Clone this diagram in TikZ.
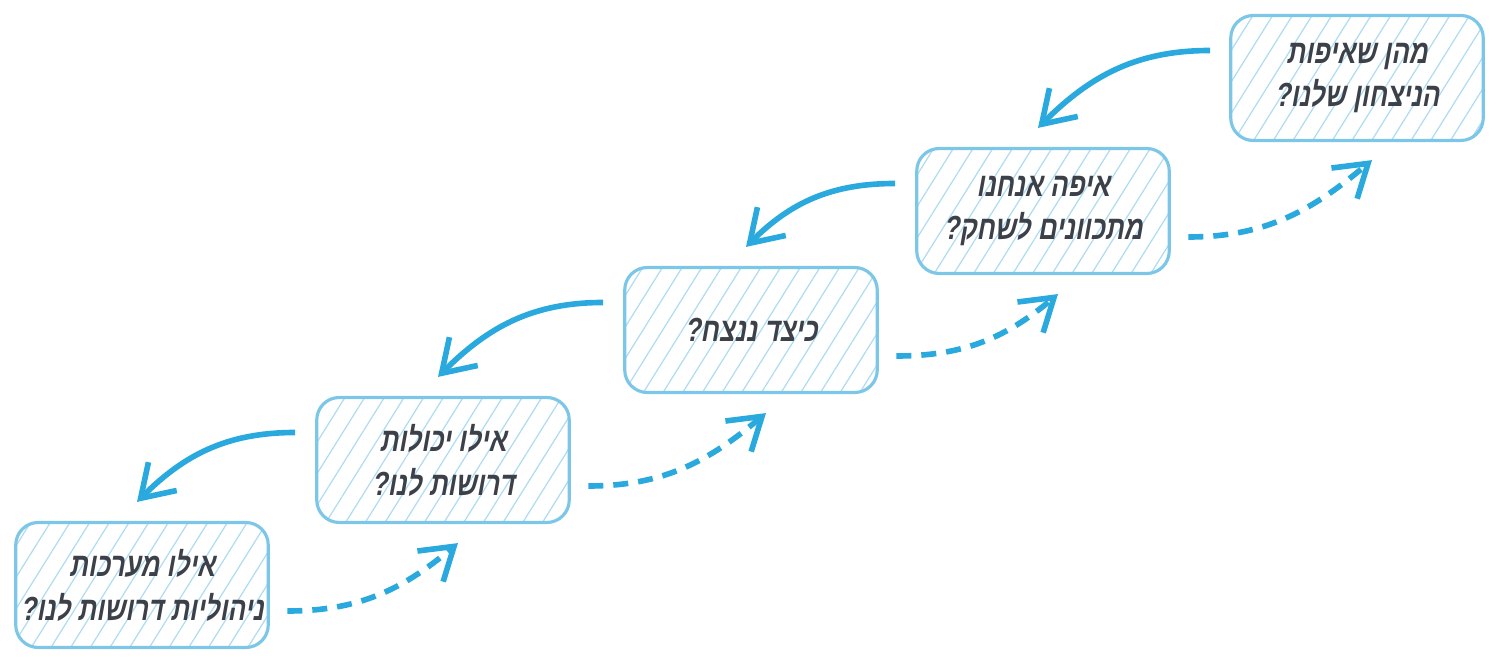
\documentclass[tikz,border=0pt]{standalone}
\usepackage{fontspec}
\newfontfamily\hebfont[Script=Hebrew,FakeSlant=0.18,FakeStretch=0.78]{Liberation Sans}
\TeXXeTstate=1
\usetikzlibrary{arrows.meta,patterns.meta}
\definecolor{boxline}{HTML}{7CC6E8}
\definecolor{hatch}{HTML}{AFDCF3}
\definecolor{arrowblue}{HTML}{2AA9DE}
\definecolor{inkgrey}{HTML}{3C4048}
\begin{document}
\begin{tikzpicture}[
  question/.style={draw=boxline, line width=1.8pt, rounded corners=0.45cm,
    pattern={Lines[angle=58,distance=9.5pt,line width=0.7pt]}, pattern color=hatch,
    minimum width=5.05cm, minimum height=2.5cm, align=center, inner sep=2pt,
    text=inkgrey, font=\hebfont\bfseries\fontsize{19}{25}\selectfont},
  back/.style={draw=arrowblue, line width=3.2pt,
    -{Straight Barb[length=0.62cm,width=0.8cm,line width=3.2pt]}},
  forth/.style={back, dash pattern=on 0.3cm off 0.2cm}]
\useasboundingbox (0,0) rectangle (30,-13.32);
\node[question] (goal) at (27.14,-1.56) {\beginR מהן שאיפות\endR\\\beginR הניצחון שלנו?\endR};
\node[question] (play) at (20.86,-4.22) {\beginR איפה אנחנו\endR\\\beginR מתכוונים לשחק?\endR};
\node[question] (win) at (15.02,-6.60) {\beginR כיצד ננצח?\endR};
\node[question] (skills) at (8.86,-9.20) {\beginR אילו יכולות\endR\\\beginR דרושות לנו?\endR};
\node[question] (systems) at (2.84,-11.70) {\beginR אילו מערכות\endR\\\beginR ניהוליות דרושות לנו?\endR};
% down the cascade
\foreach \from/\to in {goal/play, play/win, win/skills, skills/systems}
  \draw[back] ([shift={(-0.4,0.55)}]\from.west) to[out=180,in=45] ([shift={(-0.1,0.38)}]\to.north);
% and back up
\foreach \from/\to in {systems/skills, skills/win, win/play, play/goal}
  \draw[forth] ([shift={(0.35,-0.52)}]\from.east) to[out=0,in=220] ([shift={(0.3,-0.38)}]\to.south);
\end{tikzpicture}
\end{document}
